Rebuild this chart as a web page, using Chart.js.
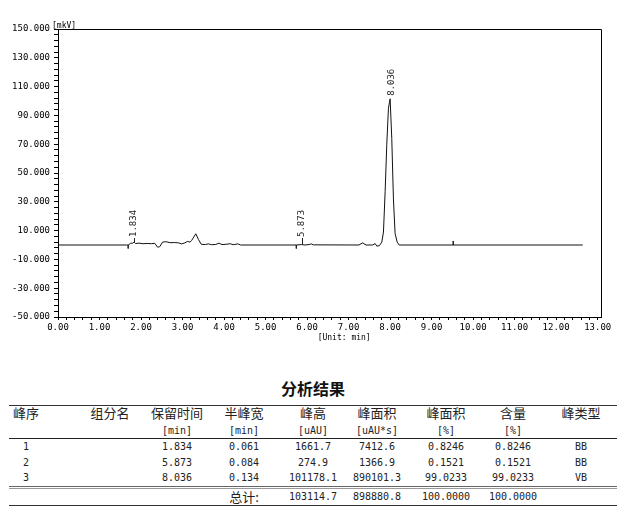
<!DOCTYPE html>
<html>
<head>
<meta charset="utf-8">
<script src="https://cdn.jsdelivr.net/npm/chart.js@4/dist/chart.umd.min.js"></script>
<style>
  body { margin: 0; background: #fff; }
  #wrap { position: relative; width: 628px; height: 529px; overflow: hidden; }
  #chart { position: absolute; left: 0; top: 0; }
  .cell { position: absolute; width: 120px; height: 16px; line-height: 16px; text-align: center; color: #222; white-space: nowrap; }
  .cjk { font-family: "Noto Sans CJK SC", sans-serif; font-size: 13px; }
  .num { font-family: "DejaVu Sans Mono", monospace; font-size: 10px; }
  .rule { position: absolute; left: 9px; width: 608px; height: 1px; }
</style>
</head>
<body>
<div id="wrap">
  <canvas id="chart" width="628" height="350"></canvas>
</div>
<script>
// 色谱图数据 (min, mkV)
var traceTime = [0, 1.65, 1.69, 1.69, 1.69, 1.75, 1.80, 1.834, 1.87, 1.95, 2.05, 2.15, 2.25, 2.33, 2.40, 2.45,
  2.52, 2.60, 2.70, 2.80, 2.90, 2.98, 3.05, 3.12, 3.18, 3.22, 3.32, 3.38, 3.45, 3.55, 3.62, 3.70, 3.80, 3.88,
  3.95, 4.05, 4.15, 4.22, 4.33, 4.40, 5.74, 5.74, 5.74, 5.873, 5.95, 6.05, 6.10, 6.15, 7.25, 7.34, 7.42,
  7.58, 7.64, 7.68, 7.74, 7.80, 7.84, 7.88, 7.92, 7.96, 8.00, 8.04, 8.08, 8.12, 8.17, 8.22, 9.52, 9.52, 9.52, 12.64];
var traceSignal = [0, 0, 0, -2.5, 0, 1.2, 1.3, 2.0, 1.0, 1.3, 0.9, 1.1, 0.9, 1.2, -1.5, -1.2,
  2.0, 2.3, 1.6, 1.7, 1.5, 0.8, 1.4, 2.5, 2.0, 3.2, 7.8, 4.0, 0.5, 0.3, 0.8, 0.2, 0.4, 1.3,
  0.3, 0.5, 0.9, 0.2, 0.8, 0, 0, -2.5, 0, 0.3, 0, 0.3, 0.8, 0.1, 0, 1.5, 0,
  0, 1.0, -0.8, -0.5, 2, 9, 37, 70, 95, 101.5, 74, 32, 8, 2, 0, 0, 2.8, 0, 0];

var peakTimes = [1.834, 5.873, 8.036];
var peakLabels = ["1.834", "5.873", "8.036"];
var peakTops = [1.8, 0.3, 101.5];

var xTicks = [0, 1, 2, 3, 4, 5, 6, 7, 8, 9, 10, 11, 12, 13];
var yTicks = [-50, -30, -10, 10, 30, 50, 70, 90, 110, 130, 150];

// 分析结果表
var colCenters = [26, 110, 177, 244, 313, 377, 446, 513, 581];
var headers = ["峰序", "组分名", "保留时间", "半峰宽", "峰高", "峰面积", "峰面积", "含量", "峰类型"];
var units = ["", "", "[min]", "[min]", "[uAU]", "[uAU*s]", "[%]", "[%]", ""];
var peakNo = ["1", "2", "3"];
var retTime = ["1.834", "5.873", "8.036"];
var halfWidth = ["0.061", "0.084", "0.134"];
var peakHeight = ["1661.7", "274.9", "101178.1"];
var peakArea = ["7412.6", "1366.9", "890101.3"];
var areaPct = ["0.8246", "0.1521", "99.0233"];
var content = ["0.8246", "0.1521", "99.0233"];
var peakType = ["BB", "BB", "VB"];
var totals = ["", "", "", "总计:", "103114.7", "898880.8", "100.0000", "100.0000", ""];

var MONO = "'DejaVu Sans Mono', monospace";

var points = traceTime.map(function (t, i) { return { x: t, y: traceSignal[i] }; });

var framePlugin = {
  id: "frame",
  afterDraw: function (chart) {
    var ctx = chart.ctx;
    var a = chart.chartArea;
    var xs = chart.scales.x;
    var ys = chart.scales.y;
    ctx.save();
    ctx.strokeStyle = "#000";
    ctx.lineWidth = 1;
    ctx.beginPath();
    ctx.moveTo(Math.round(a.left) + 0.5, Math.round(a.top) + 0.5);
    ctx.lineTo(Math.round(a.right) + 0.5, Math.round(a.top) + 0.5);
    ctx.lineTo(Math.round(a.right) + 0.5, Math.round(a.bottom) + 0.5);
    ctx.stroke();

    ctx.fillStyle = "#000";
    ctx.font = "8px " + MONO;
    ctx.textAlign = "left";
    ctx.textBaseline = "alphabetic";
    ctx.fillText("[mkV]", a.left - 6, a.top - 1);
    ctx.textAlign = "center";
    ctx.textBaseline = "middle";
    ctx.fillText("[Unit: min]", a.left + (a.right - a.left) * 0.527, 338);

    // 峰标注
    var y0 = ys.getPixelForValue(0);
    ctx.font = "9px " + MONO;
    ctx.strokeStyle = "#222";
    ctx.fillStyle = "#222";
    for (var i = 0; i < peakTimes.length; i++) {
      var x = xs.getPixelForValue(peakTimes[i]);
      var yp = ys.getPixelForValue(peakTops[i]);
      var start = Math.min(yp - 3, y0 - 8);
      if (start < yp - 4) {
        ctx.beginPath();
        ctx.moveTo(Math.round(x) + 0.5, yp);
        ctx.lineTo(Math.round(x) + 0.5, start + 1);
        ctx.stroke();
      }
      ctx.save();
      ctx.translate(x, start);
      ctx.rotate(-Math.PI / 2);
      ctx.textAlign = "left";
      ctx.textBaseline = "middle";
      ctx.fillText(peakLabels[i], 0, 0);
      ctx.restore();
    }
    ctx.restore();
  }
};

new Chart(document.getElementById("chart"), {
  type: "line",
  data: {
    datasets: [{
      data: points,
      borderColor: "#111",
      borderWidth: 1,
      pointRadius: 0,
      tension: 0,
      fill: false
    }]
  },
  options: {
    responsive: false,
    animation: false,
    layout: { padding: { top: 29, right: 27, left: 0, bottom: 0 } },
    plugins: { legend: { display: false }, tooltip: { enabled: false } },
    scales: {
      x: {
        type: "linear",
        min: 0,
        max: 13.08,
        afterBuildTicks: function (scale) {
          var ticks = [];
          for (var i = 0; i <= 65; i++) ticks.push({ value: i / 5 });
          scale.ticks = ticks;
        },
        afterFit: function (scale) { scale.height = 33; },
        border: { display: true, color: "#000", width: 1 },
        grid: { drawOnChartArea: false, drawTicks: true, tickLength: 3, color: "#000" },
        ticks: {
          autoSkip: false,
          maxRotation: 0,
          padding: 2,
          color: "#000",
          font: { family: MONO, size: 9 },
          callback: function (v) {
            return xTicks.indexOf(Math.round(v * 100) / 100) >= 0 ? v.toFixed(2) : "";
          }
        }
      },
      y: {
        min: -50,
        max: 150,
        afterBuildTicks: function (scale) {
          var ticks = [];
          for (var v = -50; v <= 150; v += 4) ticks.push({ value: v });
          scale.ticks = ticks;
        },
        afterFit: function (scale) { scale.width = 58; },
        border: { display: true, color: "#000", width: 1 },
        grid: { drawOnChartArea: false, drawTicks: true, tickLength: 4, color: "#000" },
        ticks: {
          autoSkip: false,
          padding: 4,
          color: "#000",
          font: { family: MONO, size: 9 },
          callback: function (v) {
            return yTicks.indexOf(v) >= 0 ? v.toFixed(3) : "";
          }
        }
      }
    }
  },
  plugins: [framePlugin]
});

// 表格
var wrap = document.getElementById("wrap");
function addCell(text, cx, cy, cls, extra) {
  var d = document.createElement("div");
  d.className = "cell " + cls;
  d.style.left = (cx - 60) + "px";
  d.style.top = (cy - 8) + "px";
  if (extra) d.style.cssText += extra;
  d.textContent = text;
  wrap.appendChild(d);
}
function addRule(y, color) {
  var d = document.createElement("div");
  d.className = "rule";
  d.style.top = y + "px";
  d.style.background = color;
  wrap.appendChild(d);
}

addCell("分析结果", 313, 386, "cjk", "font-size:16px;font-weight:bold;color:#111;height:20px;line-height:20px;");
addRule(405, "#333");
addRule(438, "#222");
addRule(486, "#666");
addRule(488, "#999");
addRule(505, "#333");

headers.forEach(function (h, i) { addCell(h, colCenters[i], 413, "cjk"); });
units.forEach(function (u, i) { if (u) addCell(u, colCenters[i], 431, "num"); });

var rowY = [447, 463, 478];
var cols = [peakNo, null, retTime, halfWidth, peakHeight, peakArea, areaPct, content, peakType];
rowY.forEach(function (y, r) {
  cols.forEach(function (col, c) {
    if (col) addCell(col[r], colCenters[c], y, "num");
  });
});
totals.forEach(function (t, i) {
  if (t) addCell(t, colCenters[i], 497, i === 3 ? "cjk" : "num");
});
</script>
</body>
</html>
